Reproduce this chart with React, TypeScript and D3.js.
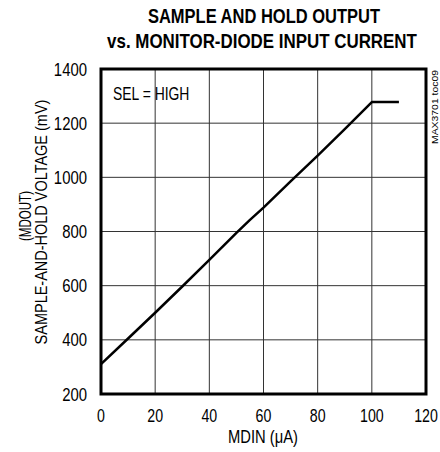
import React from "react";
import * as d3 from "d3";

const xValues = [0, 10, 20, 30, 40, 50, 55, 60, 70, 80, 90, 100, 110];
const yValues = [310, 405, 500, 597, 695, 795, 843, 888, 985, 1080, 1178, 1278, 1278];
const xTicks = [0, 20, 40, 60, 80, 100, 120];
const yTicks = [200, 400, 600, 800, 1000, 1200, 1400];
const titleLines = ["SAMPLE AND HOLD OUTPUT", "vs. MONITOR-DIODE INPUT CURRENT"];
const yLabelLines = ["(MDOUT)", "SAMPLE-AND-HOLD VOLTAGE (mV)"];
const xLabel = "MDIN (\u03bcA)";
const annotation = "SEL = HIGH";
const figId = "MAX3701 toc09";

const FONT = "'Liberation Sans', Arial, sans-serif";

let ctx: CanvasRenderingContext2D | null = null;
function measure(text: string, size: number, bold: boolean): number {
  if (!ctx) ctx = document.createElement("canvas").getContext("2d");
  if (!ctx) return text.length * size * 0.55;
  ctx.font = `${bold ? "bold " : ""}${size}px 'Liberation Sans', Arial, sans-serif`;
  return ctx.measureText(text).width;
}

function NText(props: { x: number; y: number; text: string; size: number; width: number; anchor?: "start" | "middle" | "end"; bold?: boolean; rotate?: number }) {
  const { x, y, text, size, width, anchor = "start", bold = false, rotate = 0 } = props;
  const sx = width / measure(text, size, bold);
  return (
    <text
      transform={`translate(${x},${y}) rotate(${rotate}) scale(${sx},1)`}
      textAnchor={anchor}
      fontSize={size}
      fontWeight={bold ? "bold" : "normal"}
    >{text}</text>
  );
}

export default function App() {
  const left = 101, right = 426, top = 69, bottom = 394;
  const x = d3.scaleLinear().domain([0, 120]).range([left, right]);
  const y = d3.scaleLinear().domain([200, 1400]).range([bottom, top]);
  const data = xValues.map((v, i) => [v, yValues[i]] as [number, number]);
  const line = d3.line<[number, number]>().x(d => x(d[0])).y(d => y(d[1]));
  const cw = 7.9;
  return (
    <svg width={440} height={452} style={{ position: "absolute", left: 0, top: 0, background: "#fff" }}>
      <g fontFamily={FONT}>
        <NText x={264} y={23} text={titleLines[0]} size={21} bold width={233} anchor="middle" />
        <NText x={262} y={48} text={titleLines[1]} size={21} bold width={310} anchor="middle" />
        {xTicks.slice(1, -1).map(t => (
          <line key={"gx" + t} x1={x(t)} x2={x(t)} y1={top} y2={bottom} stroke="#333" strokeWidth={1} />
        ))}
        {yTicks.slice(1, -1).map(t => (
          <line key={"gy" + t} x1={left} x2={right} y1={y(t)} y2={y(t)} stroke="#333" strokeWidth={1} />
        ))}
        <rect x={left} y={top} width={right - left} height={bottom - top} fill="none" stroke="#000" strokeWidth={3} />
        <path d={line(data) || ""} fill="none" stroke="#000" strokeWidth={2.5} strokeLinejoin="round" />
        {yTicks.map(t => (
          <NText key={"ty" + t} x={87} y={y(t) + 6.5} text={String(t)} size={18} width={String(t).length * cw * 1.05} anchor="end" />
        ))}
        {xTicks.map(t => (
          <NText key={"tx" + t} x={x(t)} y={422} text={String(t)} size={18} width={String(t).length * cw} anchor="middle" />
        ))}
        <NText x={263} y={443} text={xLabel} size={18} width={70} anchor="middle" />
        <NText x={31} y={216} text={yLabelLines[0]} size={17} width={50} anchor="middle" rotate={-90} />
        <NText x={47} y={222} text={yLabelLines[1]} size={17} width={245} anchor="middle" rotate={-90} />
        <NText x={113} y={100} text={annotation} size={18} width={77} />
        <NText x={438} y={107} text={figId} size={9} width={74} anchor="middle" rotate={-90} />
      </g>
    </svg>
  );
}
